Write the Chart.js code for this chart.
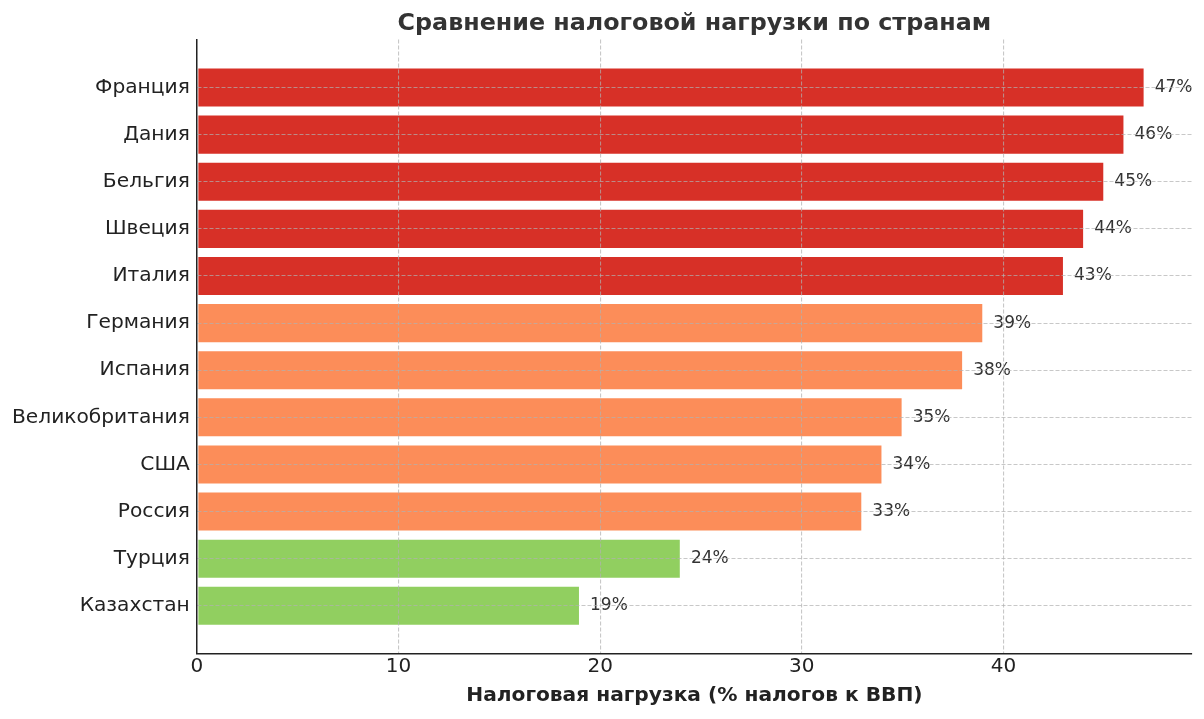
<!DOCTYPE html>
<html lang="ru">
<head>
<meta charset="utf-8">
<title>Сравнение налоговой нагрузки по странам</title>
<script src="https://cdn.jsdelivr.net/npm/chart.js@4.4.1/dist/chart.umd.min.js"></script>
<style>
  html, body { margin: 0; padding: 0; background: #fff; }
  #wrap { width: 1204px; height: 719px; position: relative; }
</style>
</head>
<body>
<div id="wrap"><canvas id="grafico"></canvas></div>
<script>
// Страны (сверху вниз) и налоговая нагрузка, % ВВП
const paises = ['Франция', 'Дания', 'Бельгия', 'Швеция', 'Италия', 'Германия',
                'Испания', 'Великобритания', 'США', 'Россия', 'Турция', 'Казахстан'];
const nagruzka = [47, 46, 45, 44, 43, 39, 38, 35, 34, 33, 24, 19];
const xTicks = [0, 10, 20, 30, 40];

// цвет по уровню нагрузки
function colorFor(v) {
    if (v >= 40) return '#d73027';
    if (v >= 30) return '#fc8d59';
    return '#91cf60';
}

const FONT = "'DejaVu Sans', sans-serif";

// подписи значений справа от столбцов
const valueLabels = {
    id: 'valueLabels',
    afterDatasetsDraw(chart) {
        const ctx = chart.ctx;
        const xs = chart.scales.x;
        const meta = chart.getDatasetMeta(0);
        ctx.save();
        ctx.font = '17px ' + FONT;
        ctx.fillStyle = '#333';
        ctx.textAlign = 'left';
        ctx.textBaseline = 'middle';
        meta.data.forEach((bar, i) => {
            const v = nagruzka[i];
            ctx.fillText(v + '%', xs.getPixelForValue(v + 0.5), bar.y);
        });
        ctx.restore();
    }
};

const ctx = document.getElementById('grafico').getContext('2d');
new Chart(ctx, {
    type: 'bar',
    data: {
        datasets: [{
            data: nagruzka.map((v, i) => ({ x: v, y: i })),
            backgroundColor: nagruzka.map(colorFor),
            borderColor: 'rgba(255,255,255,0.55)',
            borderWidth: 1,
            borderSkipped: false,
            barPercentage: 0.85,
            categoryPercentage: 1
        }]
    },
    options: {
        indexAxis: 'y',
        responsive: true,
        maintainAspectRatio: false,
        animation: false,
        layout: { padding: { left: 5, right: 12, top: 0, bottom: 6 } },
        plugins: {
            legend: { display: false },
            tooltip: { enabled: false },
            title: {
                display: true,
                fullSize: false,
                text: 'Сравнение налоговой нагрузки по странам',
                color: '#333',
                font: { family: FONT, size: 23.8, weight: 'bold' },
                padding: { top: 10, bottom: 1 }
            }
        },
        scales: {
            x: {
                type: 'linear',
                min: 0,
                max: 49.35,
                afterBuildTicks: (scale) => { scale.ticks = xTicks.map(v => ({ value: v })); },
                ticks: {
                    color: '#222',
                    font: { family: FONT, size: 20 },
                    padding: 1
                },
                grid: {
                    color: 'rgba(176,176,176,0.7)',
                    lineWidth: 1.1,
                    drawTicks: false,
                    z: 1
                },
                border: { display: true, color: '#222', width: 1.5, dash: [4, 2], z: 2 },
                title: {
                    display: true,
                    text: 'Налоговая нагрузка (% налогов к ВВП)',
                    color: '#222',
                    font: { family: FONT, size: 20.2, weight: 'bold' },
                    padding: { top: 4, bottom: 5 }
                }
            },
            y: {
                type: 'linear',
                reverse: true,
                offset: false,
                min: -1.0175,
                max: 12.0175,
                afterBuildTicks: (scale) => { scale.ticks = paises.map((_, i) => ({ value: i })); },
                ticks: {
                    autoSkip: false,
                    color: '#222',
                    font: { family: FONT, size: 20.2 },
                    padding: 7,
                    callback: (v) => paises[v]
                },
                grid: {
                    offset: false,
                    color: 'rgba(176,176,176,0.7)',
                    lineWidth: 1.1,
                    drawTicks: false,
                    z: 1
                },
                border: { display: true, color: '#222', width: 1.5, dash: [4, 2], z: 2 }
            }
        }
    },
    plugins: [valueLabels]
});
</script>
</body>
</html>
